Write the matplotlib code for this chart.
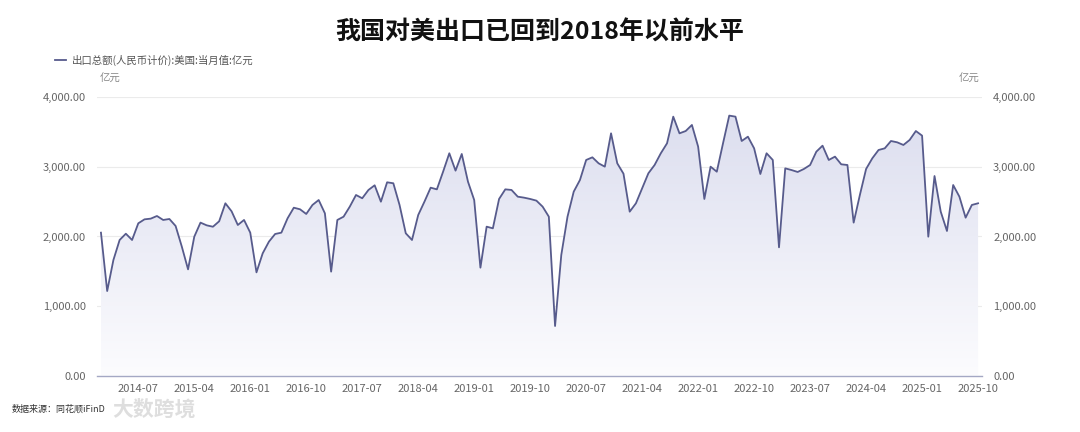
import matplotlib.pyplot as plt
import numpy as np
import pandas as pd
from matplotlib.colors import LinearSegmentedColormap
from matplotlib.ticker import FuncFormatter

plt.rcParams['font.family'] = ['Noto Sans CJK SC', 'DejaVu Sans']

title = '我国对美出口已回到2018年以前水平'
series_name = '出口总额(人民币计价):美国:当月值:亿元'
unit = '亿元'
source = '数据来源：同花顺iFinD'

months = pd.period_range('2014-01', '2025-10', freq='M').strftime('%Y-%m').tolist()
values = [
    # 2014
    2055, 1218, 1663, 1950, 2040, 1950, 2189, 2246, 2256, 2294, 2237, 2251,
    # 2015
    2151, 1854, 1529, 1997, 2199, 2160, 2140, 2218, 2476, 2361, 2165, 2237,
    # 2016
    2055, 1486, 1759, 1926, 2036, 2055, 2261, 2413, 2390, 2323, 2452, 2523,
    # 2017
    2332, 1496, 2237, 2284, 2428, 2595, 2548, 2667, 2734, 2499, 2777, 2763,
    # 2018
    2452, 2046, 1950, 2308, 2499, 2700, 2676, 2929, 3193, 2944, 3183, 2786,
    # 2019
    2523, 1553, 2141, 2117, 2538, 2676, 2667, 2571, 2557, 2538, 2514, 2428,
    # 2020
    2284, 717, 1735, 2284, 2643, 2810, 3097, 3135, 3049, 3001, 3479, 3049,
    # 2021
    2900, 2356, 2476, 2691, 2906, 3025, 3193, 3336, 3718, 3479, 3512, 3599,
    # 2022
    3288, 2538, 3001, 2929, 3336, 3733, 3718, 3369, 3431, 3264, 2896, 3193,
    # 2023
    3097, 1845, 2977, 2953, 2925, 2968, 3025, 3216, 3302, 3097, 3145, 3035,
    # 2024
    3025, 2199, 2595, 2968, 3121, 3240, 3264, 3369, 3350, 3312, 3384, 3512,
    # 2025
    3446, 1997, 2867, 2356, 2079, 2738, 2571, 2270, 2452, 2476,
]
tick_labels = ['2014-07', '2015-04', '2016-01', '2016-10', '2017-07', '2018-04',
               '2019-01', '2019-10', '2020-07', '2021-04', '2022-01', '2022-10',
               '2023-07', '2024-04', '2025-01', '2025-10']
y_ticks = [0, 1000, 2000, 3000, 4000]

line_color = '#575b8c'
x = np.arange(len(months))
vals = np.array(values, dtype=float)

fig = plt.figure(figsize=(10.8, 4.32), dpi=100)
ax = fig.add_axes([0.0898, 0.1296, 0.8195, 0.6459])

# gradient area under the line
poly = ax.fill_between(x, vals, 0, facecolor='none', edgecolor='none')
grad = np.linspace(0, 1, 256).reshape(-1, 1)
cmap = LinearSegmentedColormap.from_list('area', ['#fcfcfe', '#dadcee'])
im = ax.imshow(grad, extent=[x[0], x[-1], 0, 4000], origin='lower',
               aspect='auto', cmap=cmap, zorder=1)
im.set_clip_path(poly.get_paths()[0], transform=ax.transData)

ax.plot(x, vals, color=line_color, linewidth=1.3, zorder=3)

ax.set_xlim(-0.64, len(months) - 1 + 0.64)
ax.set_ylim(0, 4000)
ax.set_yticks(y_ticks)
fmt = FuncFormatter(lambda v, p: f'{v:,.2f}')
ax.yaxis.set_major_formatter(fmt)
ax.grid(axis='y', color='#ebebeb', linewidth=0.8, zorder=0)
ax.set_axisbelow(True)

ax.set_xticks([months.index(m) for m in tick_labels])
ax.set_xticklabels(tick_labels)
ax.tick_params(axis='both', length=0, labelsize=8, colors='#666666')
ax.tick_params(axis='x', pad=6)
ax.tick_params(axis='y', pad=8)
for s in ['top', 'right', 'left']:
    ax.spines[s].set_visible(False)
ax.spines['bottom'].set_color('#a4a8c4')
ax.spines['bottom'].set_linewidth(1.0)

ax2 = ax.twinx()
ax2.set_ylim(0, 4000)
ax2.set_yticks(y_ticks)
ax2.yaxis.set_major_formatter(fmt)
ax2.tick_params(axis='y', length=0, labelsize=8, colors='#666666', pad=8)
for s in ax2.spines.values():
    s.set_visible(False)

fig.text(0.5, 0.924, title, ha='center', va='center', fontsize=18,
         fontweight='bold', color='#111111')

fig.lines.append(plt.Line2D([0.051, 0.061], [0.861, 0.861], color=line_color,
                            linewidth=1.3, transform=fig.transFigure))
fig.text(0.0665, 0.861, series_name, ha='left', va='center', fontsize=7.5,
         color='#555555')
fig.text(0.0926, 0.817, unit, ha='left', va='center', fontsize=7.5, color='#888888')
fig.text(0.907, 0.817, unit, ha='right', va='center', fontsize=7.5, color='#888888')

# watermark kept beside the source note
fig.text(0.104, 0.052, '大数跨境', ha='left', va='center', fontsize=15,
         color='#d6d6d6', fontweight='bold', alpha=0.8)
fig.text(0.011, 0.052, source, ha='left', va='center', fontsize=6.5,
         color='#333333')

fig.savefig('out.png', dpi=100)
